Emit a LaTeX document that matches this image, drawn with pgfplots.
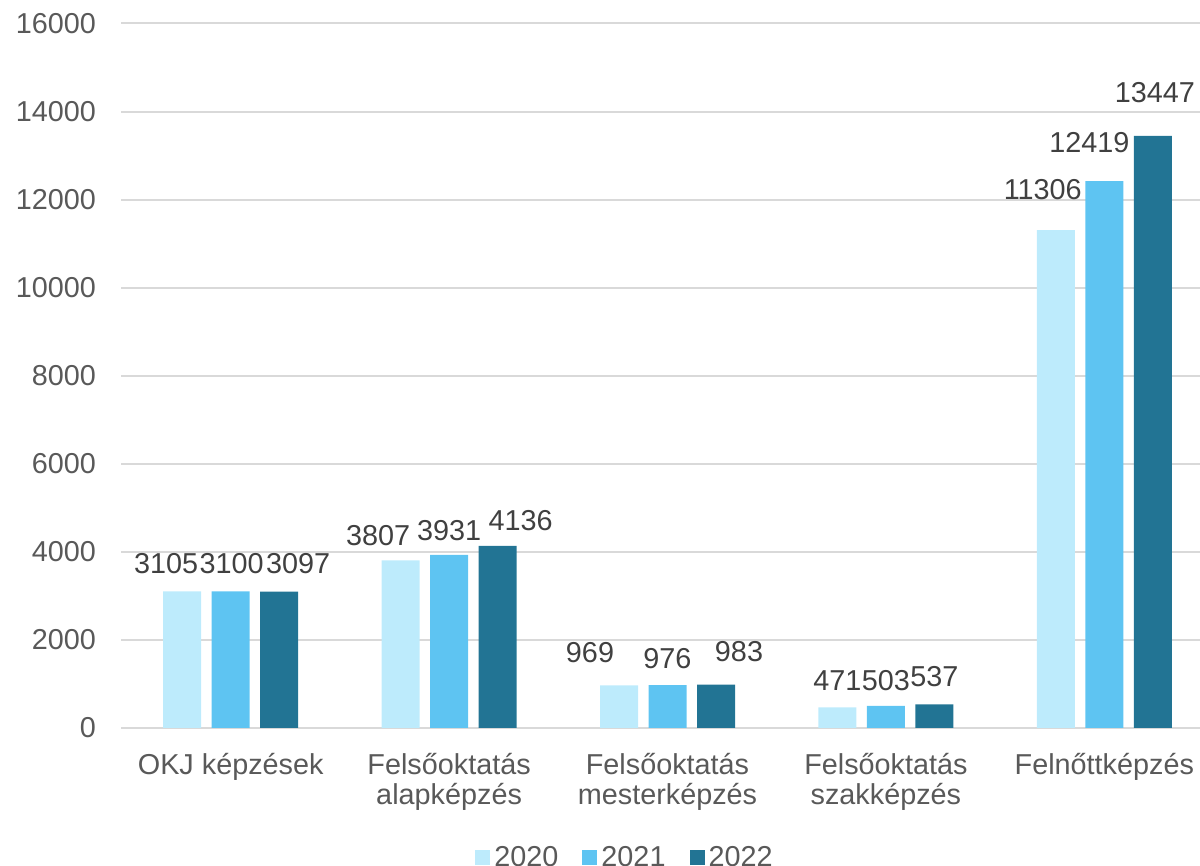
\documentclass[border=0pt]{standalone}
\usepackage{pgfplots}
\pgfplotsset{compat=1.18}
\usepackage{fontspec}
\setmainfont{Liberation Sans}

\definecolor{cA}{HTML}{BDEBFC}
\definecolor{cB}{HTML}{5EC4F2}
\definecolor{cC}{HTML}{227494}
\definecolor{tick}{HTML}{595959}
\definecolor{lab}{HTML}{404040}
\definecolor{grd}{HTML}{D9D9D9}

% values, then label offsets (pt) as placed in the original chart
\pgfplotstableread{
x y2020 y2021 y2022 dxA dyA dxB dyB dxC dyC
0 3105 3100 3097 -8 6.6 0.5 6.8 9.5 6.6
1 3807 3931 4136 -11.2 4.9 0 4.9 11.5 5.6
2 969 976 983 -14.5 8.9 0 6.1 11.5 9.1
3 471 503 537 0 6.1 0 5.5 0 6.6
4 11306 12419 13447 -6.5 13.1 -7.5 12.1 1 14.6
}\trainees

\begin{document}
\begin{tikzpicture}[font=\fontsize{14.4}{15}\selectfont]
\useasboundingbox (-60.75pt,-69pt) rectangle (539.25pt,364pt);
\begin{axis}[
    at={(0,0)}, anchor=south west,
    scale only axis, width=546pt, height=352.25pt,
    ybar=5.25pt, bar width=19pt,
    xmin=-0.5, xmax=4.5,
    ymin=0, ymax=16000,
    ytick={0,2000,...,16000},
    xtick=data,
    xticklabels={OKJ képzések,{Felsőoktatás\\alapképzés},{Felsőoktatás\\mesterképzés},{Felsőoktatás\\szakképzés},Felnőttképzés},
    xticklabel style={align=center, text=tick, yshift=-9pt},
    yticklabel style={text=tick, xshift=-9.25pt},
    /pgf/number format/assume math mode=true,
    scaled y ticks=false,
    yticklabel={\pgfmathprintnumber[fixed,1000 sep={}]{\tick}},
    major tick length=0pt,
    axis line style={draw=none},
    ymajorgrids, major grid style={grd, line width=1pt},
    nodes near coords,
    nodes near coords style={text=lab, inner sep=2pt,
      xshift=\labdx pt, yshift=\labdy pt,
      /pgf/number format/.cd, fixed, 1000 sep={}, assume math mode=true},
    legend style={at={(0.462,-0.185)}, anchor=center, draw=none, fill=none,
      legend columns=3, /tikz/every even column/.append style={column sep=10pt},
      text=tick},
    legend image code/.code={\fill[#1] (0pt,-3.5pt) rectangle (7.5pt,4pt);},
    clip=false,
]
\addplot[fill=cA, draw=none,
  visualization depends on={\thisrow{dxA} \as \labdx},
  visualization depends on={\thisrow{dyA} \as \labdy}]
  table[x=x, y=y2020] {\trainees};
\addplot[fill=cB, draw=none,
  visualization depends on={\thisrow{dxB} \as \labdx},
  visualization depends on={\thisrow{dyB} \as \labdy}]
  table[x=x, y=y2021] {\trainees};
\addplot[fill=cC, draw=none,
  visualization depends on={\thisrow{dxC} \as \labdx},
  visualization depends on={\thisrow{dyC} \as \labdy}]
  table[x=x, y=y2022] {\trainees};
\legend{2020,2021,2022}
\end{axis}
\end{tikzpicture}
\end{document}
